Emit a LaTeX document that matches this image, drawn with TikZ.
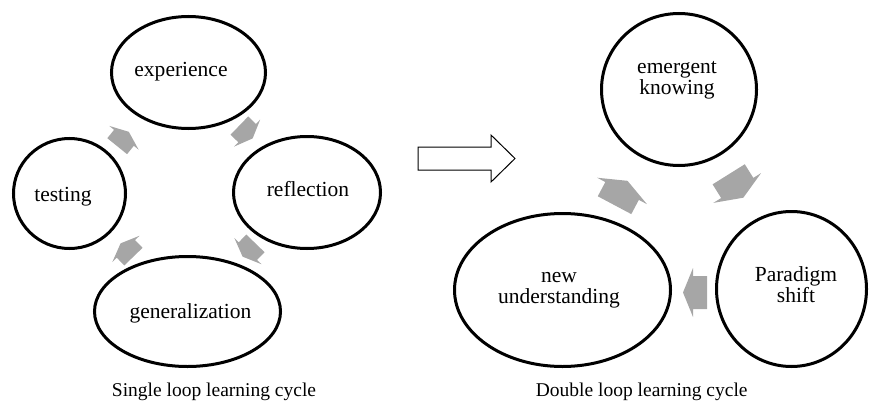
\documentclass[tikz,border=0pt]{standalone}
\usepackage{fontspec}
\setmainfont{Liberation Serif}
\usetikzlibrary{shapes.geometric}
\definecolor{arrowgray}{HTML}{A6A6A6}
\tikzset{
  stage/.style={draw=black, line width=3pt, ellipse, inner sep=0pt},
  lbl/.style={align=center, inner sep=0pt, font=\fontsize{21.5}{21}\selectfont},
  caption/.style={inner sep=0pt, anchor=base, font=\fontsize{19.5}{22}\selectfont},
  garrow/.pic={\fill[arrowgray] (-12,-16.5) -- (2,-16.5) -- (2,-24.5) -- (12,0) -- (2,24.5) -- (2,16.5) -- (-12,16.5) -- cycle;},
  bigarrow/.style={draw=black, line width=1pt, fill=white, line join=miter}
}
\begin{document}
\begin{tikzpicture}[x=1pt,y=1pt]
\useasboundingbox (0,0) rectangle (869,400);
% single loop
\node[stage, minimum width=154, minimum height=112] (exp) at (188.5,327.5) {};
\node[stage, minimum width=147, minimum height=112] (ref) at (307,207.5) {};
\node[stage, minimum width=112, minimum height=110] (tst) at (69.5,206.5) {};
\node[stage, minimum width=186, minimum height=110] (gen) at (187.5,88.5) {};
\node[lbl, anchor=base] (expt) at (181,323.3) {experience};
\node[lbl, anchor=base] (reft) at (308,204) {reflection};
\node[lbl, anchor=base] (tstt) at (63,198.5) {testing};
\node[lbl, anchor=base] (gent) at (190.5,81.7) {generalization};
\coordinate (a1) at (123,261);
\coordinate (a2) at (246,268);
\coordinate (a3) at (249,150);
\coordinate (a4) at (127,150);
\pic[rotate=51, scale=0.77] at (a1) {garrow};
\pic[rotate=-44, scale=0.77] at (a2) {garrow};
\pic[rotate=-134, scale=0.77] at (a3) {garrow};
\pic[rotate=134, scale=0.77] at (a4) {garrow};
\node[caption] (cap1) at (214,4) {Single loop learning cycle};
% transition arrow
\draw[bigarrow] (418,230) -- (491,230) -- (491,218) -- (515,241.5) -- (491,265) -- (491,253) -- (418,253) -- cycle;
% double loop
\node[stage, minimum width=155, minimum height=152] (emk) at (679,310.5) {};
\node[stage, minimum width=216, minimum height=153] (nun) at (562.5,110) {};
\node[stage, minimum width=150, minimum height=155] (par) at (791.5,111) {};
\node[lbl] (emkt) at (677,319.4) {emergent\\knowing};
\node[lbl] (nunt) at (559,110) {new\\understanding};
\node[lbl] (part) at (796,115) {Paradigm\\shift};
\coordinate (b1) at (621,207);
\coordinate (b2) at (736,214);
\coordinate (b3) at (695,107.5);
\pic[rotate=62, scale=1.15] at (b1) {garrow};
\pic[rotate=-58, scale=1.15] at (b2) {garrow};
\pic[rotate=180] at (b3) {garrow};
\node[caption] (cap2) at (641.7,4) {Double loop learning cycle};
\end{tikzpicture}
\end{document}
